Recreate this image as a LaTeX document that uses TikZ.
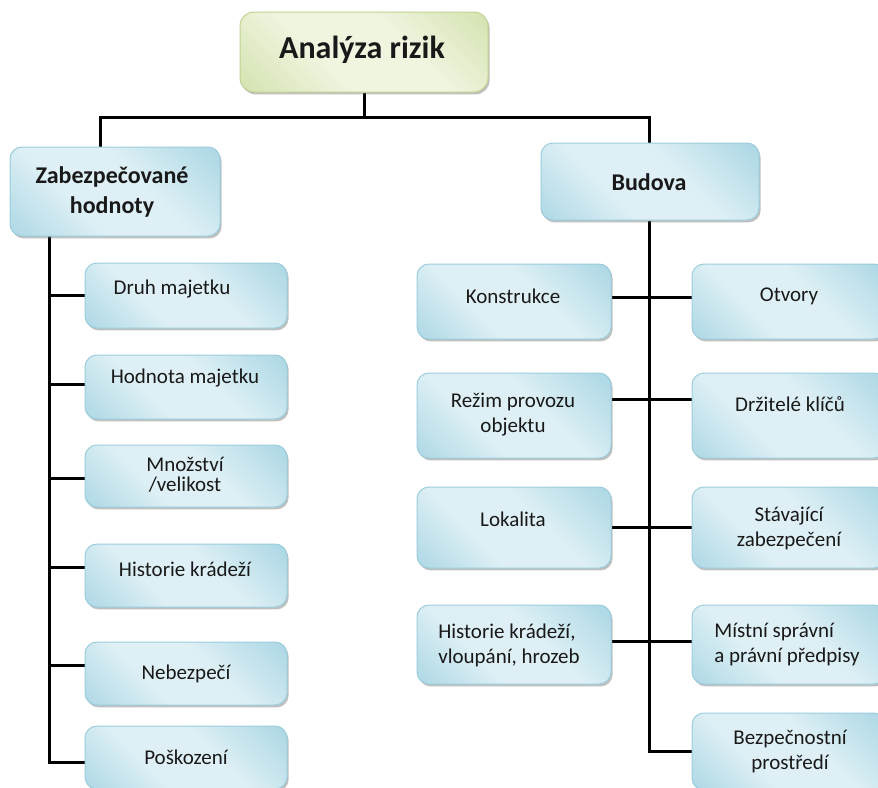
\documentclass[tikz,border=0pt]{standalone}
\usepackage{fontspec}
\setmainfont{Carlito}
\usetikzlibrary{shadows,backgrounds}
\definecolor{bdark}{RGB}{143,201,219}
\definecolor{blight}{RGB}{222,240,245}
\definecolor{bbord}{RGB}{155,205,220}
\definecolor{gdark}{RGB}{196,216,148}
\definecolor{glight}{RGB}{240,245,224}
\definecolor{gbord}{RGB}{192,211,145}
\definecolor{txtc}{RGB}{25,25,25}
\pgfdeclarehorizontalshading{bshade}{100bp}{color(0bp)=(bdark); color(38bp)=(blight); color(58bp)=(blight); color(100bp)=(bdark)}
\pgfdeclarehorizontalshading{gshade}{100bp}{color(0bp)=(gdark); color(40bp)=(glight); color(60bp)=(glight); color(100bp)=(gdark)}
\tikzset{
  bbox/.style={draw=bbord, line width=0.5pt, rounded corners=6pt, shading=bshade, shading angle=45, inner sep=0pt,
    drop shadow={shadow xshift=0.8pt, shadow yshift=-1.2pt, opacity=0.45, fill=black!55}},
  gbox/.style={draw=gbord, line width=0.5pt, rounded corners=7pt, shading=gshade, shading angle=45, inner sep=0pt,
    drop shadow={shadow xshift=0.8pt, shadow yshift=-1.2pt, opacity=0.45, fill=black!55}},
  txt/.style={text=txtc, font=\fontsize{10.5}{12.5}\selectfont, align=center, inner sep=0pt},
  btxt/.style={text=txtc, font=\fontsize{12}{15}\selectfont\bfseries, align=center, inner sep=0pt},
  conn/.style={draw=black, line width=1.5pt},
}
\begin{document}
\begin{tikzpicture}[x=0.5pt,y=-0.5pt]
\useasboundingbox (0,0) rectangle (878,787);
\clip (0,0) rectangle (878,787);
% boxes
\node[gbox, minimum width=124pt, minimum height=40pt] (top) at (364,52) {};
\node[bbox, minimum width=105pt, minimum height=44.5pt] (zab) at (115,191.5) {};
\node[bbox, minimum width=109pt, minimum height=38.5pt] (bud) at (650,181.5) {};
% left column
\node[bbox, minimum width=101pt, minimum height=32.5pt] (L1) at (186,295.5) {};
\node[bbox, minimum width=101pt, minimum height=32pt] (L2) at (186,387) {};
\node[bbox, minimum width=101pt, minimum height=31pt] (L3) at (186,476) {};
\node[bbox, minimum width=101pt, minimum height=31.5pt] (L4) at (186,575.5) {};
\node[bbox, minimum width=101pt, minimum height=31.5pt] (L5) at (186,673.5) {};
\node[bbox, minimum width=101pt, minimum height=31.5pt] (L6) at (186,757.5) {};
% right columns
\node[bbox, minimum width=97pt, minimum height=37.5pt] (kon) at (514,301.5) {};
\node[bbox, minimum width=97pt, minimum height=37.5pt] (otv) at (789,301.5) {};
\node[bbox, minimum width=97pt, minimum height=42.5pt] (rez) at (514,415.5) {};
\node[bbox, minimum width=97pt, minimum height=42.5pt] (drz) at (789,415.5) {};
\node[bbox, minimum width=97pt, minimum height=40.5pt] (lok) at (514,527.5) {};
\node[bbox, minimum width=97pt, minimum height=40.5pt] (sta) at (789,527.5) {};
\node[bbox, minimum width=97pt, minimum height=39.5pt] (his) at (514,644.5) {};
\node[bbox, minimum width=97pt, minimum height=39.5pt] (mis) at (789,644.5) {};
\node[bbox, minimum width=97pt, minimum height=38.5pt] (bez) at (789,751.5) {};
% connectors
\begin{scope}[on background layer]
\coordinate (hl) at (100,117);
\coordinate (hr) at (649,117);
\coordinate (lt) at (49,236);
\coordinate (lb) at (49,762);
\draw[conn] (top.south) -- (top.south |- hl);
\draw[conn] (hl |- zab.north) -- (hl) -- (hr) -- (hr |- bud.north);
\draw[conn] (lt) -- (lb) -- ([yshift=-2.25pt]L6.west);
\draw[conn] (L1.west) -- (L1.west -| lt);
\draw[conn] ([yshift=1.5pt]L2.west) -- ([yshift=1.5pt]L2.west -| lt);
\draw[conn] ([yshift=-1pt]L3.west) -- ([yshift=-1pt]L3.west -| lt);
\draw[conn] ([yshift=4.25pt]L4.west) -- ([yshift=4.25pt]L4.west -| lt);
\draw[conn] ([yshift=4.25pt]L5.west) -- ([yshift=4.25pt]L5.west -| lt);
\draw[conn] (hr |- bud.south) -- (hr |- bez.west) -- (bez.west);
\draw[conn] ([yshift=2.25pt]kon.east) -- ([yshift=2.25pt]otv.west);
\draw[conn] ([yshift=8.25pt]rez.east) -- ([yshift=8.25pt]drz.west);
\draw[conn] (lok.east) -- (sta.west);
\draw[conn] ([yshift=1.75pt]his.east) -- ([yshift=1.75pt]mis.west);
\end{scope}
% texts
\node[text=txtc, font=\fontsize{16}{19}\selectfont\bfseries, inner sep=0pt] (ttop) at (362,50) {Analýza rizik};
\node[btxt] (tzab) at (112,192) {Zabezpečované\\hodnoty};
\node[btxt] (tbud) at (649,182) {Budova};
\node[txt] (t1) at (172,289) {Druh majetku};
\node[txt] (t2) at (185,378) {Hodnota majetku};
\node[txt, font=\fontsize{10.5}{10}\selectfont] (t3) at (185,475) {Množství\\/velikost};
\node[txt] (t4) at (185,569) {Historie krádeží};
\node[txt] (t5) at (186,674) {Nebezpečí};
\node[txt] (t6) at (186,757) {Poškození};
\node[txt] (tkon) at (513,296) {Konstrukce};
\node[txt] (totv) at (789,296) {Otvory};
\node[txt] (trez) at (513,415) {Režim provozu\\objektu};
\node[txt] (tdrz) at (790,404) {Držitelé klíčů};
\node[txt] (tlok) at (513,519) {Lokalita};
\node[txt] (tsta) at (789,528) {Stávající\\zabezpečení};
\node[txt, align=left] (this) at (509,645) {Historie krádeží,\\vloupání, hrozeb};
\node[txt, align=left] (tmis) at (787,645) {Místní správní\\a právní předpisy};
\node[txt] (tbez) at (790,752) {Bezpečnostní\\prostředí};
\end{tikzpicture}
\end{document}
